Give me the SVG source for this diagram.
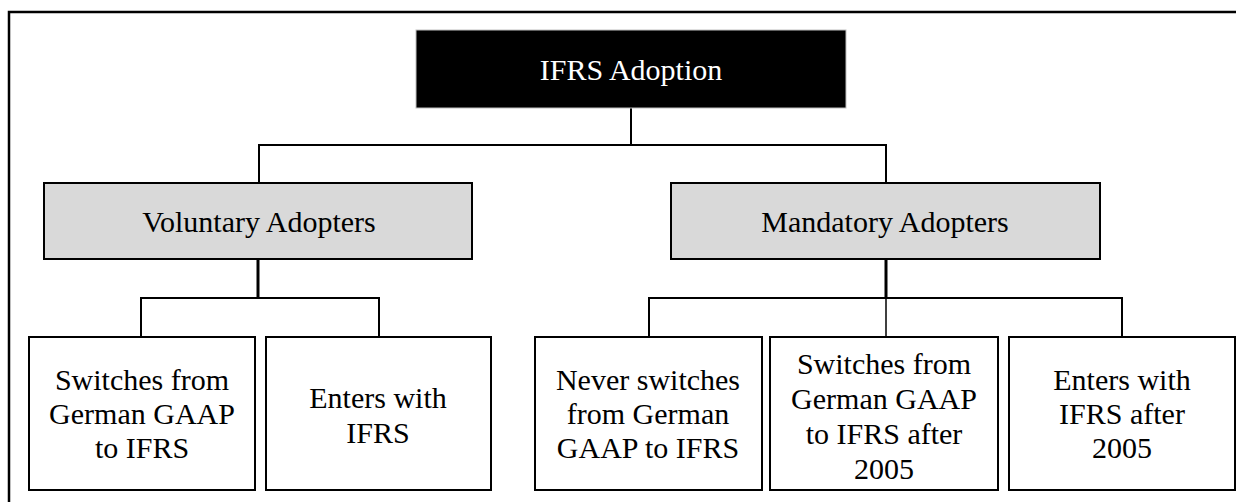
<svg xmlns="http://www.w3.org/2000/svg" width="1236" height="502" viewBox="0 0 1236 502">
  <style>
    .lbl { font-family: "Liberation Serif", "Times New Roman", serif; font-size: 30px; text-anchor: middle; fill: #000; }
    .inv { fill: #fff; }
    .box { fill: #fff; stroke: #000; stroke-width: 2; }
    .grey { fill: #d9d9d9; stroke: #000; stroke-width: 2; }
    .root { fill: #000; stroke: #bfbfbf; stroke-width: 1; }
    .wire { fill: none; stroke: #000; stroke-width: 2; }
    .stem { fill: none; stroke: #000; stroke-width: 3; }
  </style>

  <rect width="1236" height="502" fill="#fff"/>
  <!-- outer frame: left and top sides -->
  <path d="M9 502 V12 H1236" fill="none" stroke="#000" stroke-width="2.5"/>

  <g id="connectors">
    <path class="wire" d="M631 108 V145 M259 183 V145 H886 V183"/>
    <path class="stem" d="M258 259 V298"/>
    <path class="wire" d="M141 337 V298 H379 V337"/>
    <path class="stem" d="M886 259 V298"/>
    <path class="wire" d="M649 337 V298 H1122 V337"/>
    <path d="M886 298 V337" fill="none" stroke="#000" stroke-width="1.5"/>
  </g>

  <g id="ifrs-adoption">
    <rect class="root" x="416" y="30" width="430" height="78"/>
    <text class="lbl inv" x="631" y="80">IFRS Adoption</text>
  </g>

  <g id="voluntary-adopters">
    <rect class="grey" x="44" y="183" width="428" height="76"/>
    <text class="lbl" x="259" y="232">Voluntary Adopters</text>
  </g>

  <g id="mandatory-adopters">
    <rect class="grey" x="671" y="183" width="429" height="76"/>
    <text class="lbl" x="885" y="232">Mandatory Adopters</text>
  </g>

  <g id="voluntary-switches">
    <rect class="box" x="29" y="337" width="226" height="153"/>
    <text class="lbl" x="142" y="390">Switches from</text>
    <text class="lbl" x="142" y="424">German GAAP</text>
    <text class="lbl" x="142" y="458">to IFRS</text>
  </g>

  <g id="voluntary-enters">
    <rect class="box" x="266" y="337" width="225" height="153"/>
    <text class="lbl" x="378" y="408">Enters with</text>
    <text class="lbl" x="378" y="443">IFRS</text>
  </g>

  <g id="mandatory-never">
    <rect class="box" x="535" y="337" width="227" height="153"/>
    <text class="lbl" x="648" y="390">Never switches</text>
    <text class="lbl" x="648" y="424">from German</text>
    <text class="lbl" x="648" y="458">GAAP to IFRS</text>
  </g>

  <g id="mandatory-switches">
    <rect class="box" x="770" y="337" width="228" height="153"/>
    <text class="lbl" x="884" y="374">Switches from</text>
    <text class="lbl" x="884" y="409">German GAAP</text>
    <text class="lbl" x="884" y="444">to IFRS after</text>
    <text class="lbl" x="884" y="479">2005</text>
  </g>

  <g id="mandatory-enters">
    <rect class="box" x="1009" y="337" width="226" height="153"/>
    <text class="lbl" x="1122" y="390">Enters with</text>
    <text class="lbl" x="1122" y="424">IFRS after</text>
    <text class="lbl" x="1122" y="458">2005</text>
  </g>
</svg>
